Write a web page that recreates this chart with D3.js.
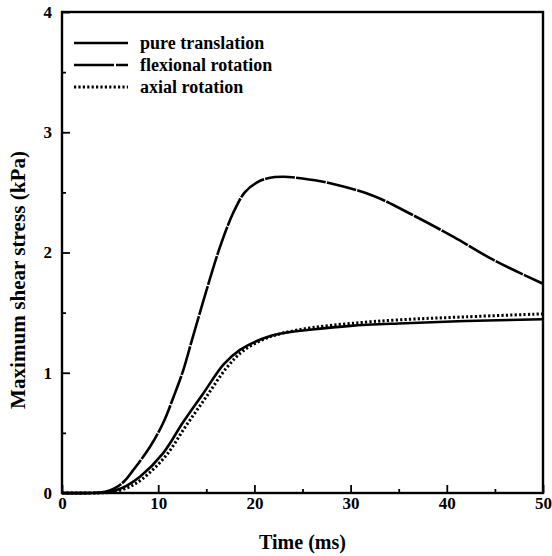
<!DOCTYPE html>
<html>
<head>
<meta charset="utf-8">
<script src="https://cdn.jsdelivr.net/npm/d3@7"></script>
<style>
body { margin: 0; background: #fff; }
text { font-family: "Liberation Serif", "Times New Roman", serif; font-weight: bold; fill: #000; }
</style>
</head>
<body>
<svg width="552" height="556"></svg>
<script>
// values
const seriesNames = ["pure translation", "flexional rotation", "axial rotation"];
const xTicks = [0, 10, 20, 30, 40, 50];
const yTicks = [0, 1, 2, 3, 4];

const pureT = [0, 3, 4.5, 5.5, 6.7, 8.1, 10.5, 12.6, 14.7, 16.8, 18.5, 20.9, 23, 26, 30, 35, 42, 50];
const pureY = [0, 0, 0.005, 0.02, 0.06, 0.135, 0.33, 0.59, 0.83, 1.07, 1.19, 1.285, 1.33, 1.36, 1.39, 1.41, 1.43, 1.445];

const flexT = [0, 3, 4.5, 5.5, 6.5, 7.4, 9.15, 10.5, 11.6, 12.6, 13.5, 15, 16.4, 17.8, 19, 20.2, 21.5, 23, 25, 28.2, 32.4, 36.5, 40.7, 44.8, 50];
const flexY = [0, 0, 0.01, 0.04, 0.1, 0.19, 0.385, 0.58, 0.8, 1.02, 1.27, 1.68, 2.04, 2.33, 2.5, 2.58, 2.62, 2.63, 2.615, 2.57, 2.47, 2.31, 2.13, 1.94, 1.74];

const axialT = [0, 3, 4.8, 5.8, 7, 8.4, 10.8, 12.9, 15, 17.1, 18.8, 21, 23, 26, 30, 35, 42, 50];
const axialY = [0, 0, 0.004, 0.017, 0.05, 0.12, 0.31, 0.56, 0.8, 1.04, 1.18, 1.28, 1.33, 1.375, 1.41, 1.44, 1.465, 1.49];

const svg = d3.select("svg");
const x = d3.scaleLinear().domain([0, 50]).range([62, 543]);
const y = d3.scaleLinear().domain([0, 4]).range([493, 12]);

// minor + major ticks, drawn inward
svg.append("g")
	.attr("transform", `translate(0,${y(0)})`)
	.call(d3.axisBottom(x).tickValues(d3.range(5, 50, 10)).tickSize(-4).tickFormat(""))
	.call(g => g.select(".domain").remove());
svg.append("g")
	.attr("transform", `translate(0,${y(0)})`)
	.call(d3.axisBottom(x).tickValues(xTicks).tickSize(-8).tickPadding(4).tickFormat(d3.format("d")))
	.call(g => g.select(".domain").remove())
	.call(g => g.selectAll("text").attr("y", 4).attr("font-size", 17).attr("font-family", "Liberation Serif").attr("font-weight", "bold"));

svg.append("g")
	.attr("transform", `translate(${x(0)},0)`)
	.call(d3.axisLeft(y).tickValues(d3.range(0.5, 4, 1)).tickSize(-4).tickFormat(""))
	.call(g => g.select(".domain").remove());
svg.append("g")
	.attr("transform", `translate(${x(0)},0)`)
	.call(d3.axisLeft(y).tickValues(yTicks).tickSize(-8).tickPadding(10).tickFormat(d3.format("d")))
	.call(g => g.select(".domain").remove())
	.call(g => g.selectAll("text").attr("x", -10).attr("font-size", 17).attr("font-family", "Liberation Serif").attr("font-weight", "bold"));

svg.selectAll(".tick line").attr("stroke", "#000").attr("stroke-width", 1.8);

// frame
svg.append("rect")
	.attr("x", x(0)).attr("y", y(4))
	.attr("width", x(50) - x(0)).attr("height", y(0) - y(4))
	.attr("fill", "none").attr("stroke", "#000").attr("stroke-width", 2.4);

const line = d3.line()
	.x(d => x(d[0]))
	.y(d => y(d[1]))
	.curve(d3.curveCatmullRom.alpha(0.5));

const series = [
	{ name: seriesNames[0], pts: d3.zip(pureT, pureY), dash: null, width: 2.6 },
	{ name: seriesNames[1], pts: d3.zip(flexT, flexY), dash: "30,1.2", width: 2.6 },
	{ name: seriesNames[2], pts: d3.zip(axialT, axialY), dash: "2.2,2.2", width: 3 }
];

svg.append("g")
	.selectAll("path")
	.data(series)
	.join("path")
	.attr("d", d => line(d.pts))
	.attr("fill", "none")
	.attr("stroke", "#000")
	.attr("stroke-width", d => d.width)
	.attr("stroke-dasharray", d => d.dash);

// legend
const legend = svg.append("g")
	.selectAll("g")
	.data(series)
	.join("g")
	.attr("transform", (d, i) => `translate(0,${43 + i * 22})`);

legend.append("line")
	.attr("x1", 74).attr("x2", 128)
	.attr("stroke", "#000")
	.attr("stroke-width", d => d.width)
	.attr("stroke-dasharray", (d, i) => i === 1 ? "40,2" : d.dash);

legend.append("text")
	.attr("x", 140)
	.attr("dy", "0.32em")
	.attr("font-size", 18)
	.text(d => d.name);

// axis titles
svg.append("text")
	.attr("x", (x(0) + x(50)) / 2)
	.attr("y", 549)
	.attr("text-anchor", "middle")
	.attr("font-size", 20)
	.text("Time (ms)");

svg.append("text")
	.attr("transform", `translate(25,280) rotate(-90)`)
	.attr("text-anchor", "middle")
	.attr("font-size", 20)
	.attr("textLength", 258)
	.attr("lengthAdjust", "spacingAndGlyphs")
	.text("Maximum shear stress (kPa)");
</script>
</body>
</html>
